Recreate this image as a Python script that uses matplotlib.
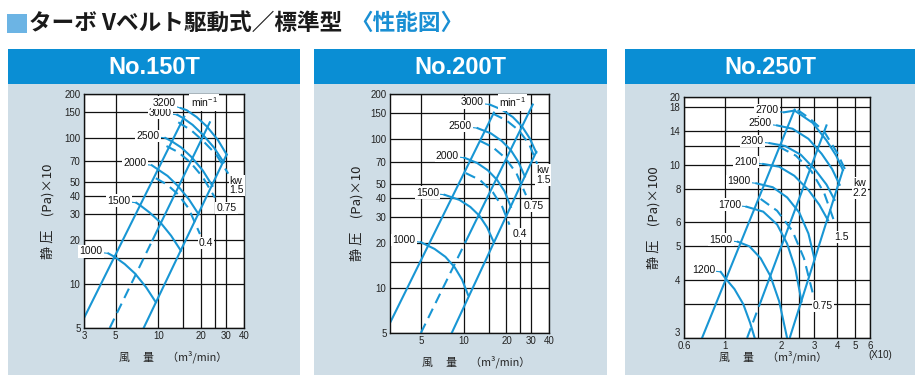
import numpy as np
import matplotlib.pyplot as plt
from matplotlib.patches import Rectangle
from matplotlib.ticker import FixedLocator, FixedFormatter, NullFormatter

plt.rcParams['font.family'] = ['Liberation Sans', 'Noto Sans CJK JP']
plt.rcParams['mathtext.fontset'] = 'custom'
plt.rcParams['mathtext.rm'] = 'Liberation Sans'

# ============================================================
#  DATA
# ============================================================

# ---- No.150T : flow m3/min, static pressure Pa x10
T150_RPM = ['1000', '1500', '2000', '2500', '3000', '3200']
T150_RPM_Q = [[4.45, 4.95, 5.8, 6.85, 8.2, 9.6],
              [7.0, 7.5, 8.7, 10.3, 12.3, 14.4],
              [9.0, 9.9, 11.6, 13.7, 16.4, 19.2],
              [11.2, 12.4, 14.5, 17.1, 20.5, 24.0],
              [13.6, 14.9, 17.4, 20.6, 24.6, 28.8],
              [14.4, 15.8, 18.6, 21.9, 26.2, 30.2]]
T150_RPM_P = [[16.2, 15.3, 13.7, 11.8, 9.5, 7.5],
              [36, 34.4, 30.8, 26.5, 21.4, 16.9],
              [65, 61, 55, 47, 38, 30],
              [100, 95, 86, 74, 60, 47],
              [144, 137, 123, 105, 86, 68],
              [160, 155, 139, 120, 97, 77]]
T150_SYS_Q = [[3, 15.2], [9.1, 23], [7.88, 30.2]]
T150_SYS_P = [[5.85, 140], [20, 128], [5, 77]]
T150_SYS_DASH_Q = [4.55, 9.1]
T150_SYS_DASH_P = [5, 20]
T150_KW = ['0.4', '0.75', 'kw\n1.5']
T150_KW_Q = [[9.6, 11.5, 13.8, 16.3, 19.6],
             [11.4, 13.8, 16.8, 20.5, 25.0],
             [13.8, 17.0, 20.5, 25.5, 31.0]]
T150_KW_P = [[53, 48, 41, 33, 22],
             [88, 80, 68, 54, 39],
             [128, 113, 96, 77, 57]]

# ---- No.200T
T200_RPM = ['1000', '1500', '2000', '2500', '3000']
T200_RPM_Q = [[4.96, 6.2, 7.4, 8.6, 9.7, 10.7],
              [7.3, 9.3, 11.1, 12.9, 14.6, 16.2],
              [10.1, 12.4, 14.8, 17.2, 19.4, 21.5],
              [12.5, 15.5, 18.5, 21.5, 24.3, 27.0],
              [15.2, 18.6, 22.2, 25.8, 29.2, 32.5]]
T200_RPM_P = [[20.3, 18.3, 16.2, 13.8, 11.4, 9.0],
              [42.2, 39, 35, 30.5, 25.5, 20.5],
              [74.7, 69, 61.5, 53, 44.5, 35],
              [118, 109, 97, 84, 70, 56],
              [170, 157, 140, 121, 101, 81]]
T200_SYS_Q = [[3, 16.3], [10.3, 30.7], [8.2, 32.5]]
T200_SYS_P = [[5.84, 150], [20.5, 170], [5, 82]]
T200_SYS_DASH_Q = [4.96, 10.3]
T200_SYS_DASH_P = [5, 20.5]
T200_KW = ['0.4', '0.75', 'kw\n1.5']
T200_KW_Q = [[10.3, 13.0, 16.0, 18.7, 21.0],
             [13.0, 16.0, 19.5, 23.5, 27.5],
             [16.0, 20.0, 24.5, 29.0, 33.0]]
T200_KW_P = [[59, 53, 44, 35, 26.6],
             [97, 88, 75, 59, 42],
             [148, 133, 114, 92, 68]]

# ---- No.250T : flow m3/min x10, static pressure Pa x100
T250_RPM = ['1200', '1500', '1700', '1900', '2100', '2300', '2500', '2700']
T250_RPM_Q = [[0.945, 1.0, 1.12, 1.25, 1.36, 1.44],
              [1.17, 1.35, 1.55, 1.75, 1.95, 2.15],
              [1.3, 1.6, 1.9, 2.15, 2.38, 2.57],
              [1.47, 1.8, 2.15, 2.5, 2.8, 3.02],
              [1.6, 1.95, 2.35, 2.8, 3.2, 3.57],
              [1.73, 2.1, 2.55, 3.05, 3.5, 3.87],
              [1.9, 2.3, 2.8, 3.3, 3.75, 4.12],
              [2.07, 2.36, 2.95, 3.5, 3.95, 4.29]]
T250_RPM_P = [[4.21, 4.05, 3.8, 3.5, 3.2, 3.0],
              [5.17, 5.0, 4.6, 4.1, 3.55, 3.0],
              [6.83, 6.55, 5.9, 5.1, 4.3, 3.55],
              [8.39, 8.1, 7.4, 6.5, 5.5, 4.57],
              [10.06, 9.8, 9.0, 7.9, 6.95, 6.1],
              [12.35, 12.0, 11.0, 9.5, 8.3, 7.24],
              [14.8, 14.3, 12.9, 11.1, 9.6, 8.28],
              [16.98, 17.3, 15.2, 12.7, 10.9, 9.5]]
T250_SYS_Q = [[0.75, 2.36], [1.56, 3.5], [2.22, 4.29]]
T250_SYS_P = [[3, 17.47], [3.57, 14.8], [3, 9.5]]
T250_SYS_DASH_Q = [1.31, 1.56]
T250_SYS_DASH_P = [3, 3.57]
T250_KW = ['0.75', '1.5', 'kw\n2.2']
T250_KW_Q = [[1.55, 1.9, 2.3, 2.65, 2.96],
             [1.95, 2.4, 2.9, 3.4, 3.87],
             [2.45, 2.85, 3.4, 4.0, 4.45]]
T250_KW_P = [[7.3, 6.6, 5.6, 4.6, 3.7],
             [11.9, 10.9, 9.4, 7.7, 6.0],
             [17.4, 15.9, 13.9, 11.2, 9.4]]

# ============================================================
#  STYLE
# ============================================================

W, H = 924, 385
BLUE = '#1896d4'
HEAD = '#0a8ed4'
PANEL = '#cfdde6'
LW = 1.5
CJK = ['Noto Sans CJK JP']


def fbox(x0, y0, x1, y1):
    """pixel box (top-left origin) -> figure fraction rect"""
    return [x0 / W, 1 - y1 / H, (x1 - x0) / W, (y1 - y0) / H]


def fwd(v):
    return np.log10(np.clip(np.asarray(v, dtype=float) - 2, 1e-6, None))


def inv(v):
    return 10 ** np.asarray(v, dtype=float) + 2


def panel_frame(fig, x0, x1, title):
    fig.add_artist(Rectangle((x0 / W, 1 - 375 / H), (x1 - x0) / W, 291 / H,
                             transform=fig.transFigure, fc=PANEL, ec='none', zorder=0))
    fig.add_artist(Rectangle((x0 / W, 1 - 84 / H), (x1 - x0) / W, 35 / H,
                             transform=fig.transFigure, fc=HEAD, ec='none', zorder=0))
    fig.text((x0 + x1) / 2 / W, 1 - 67 / H, title, color='white', fontsize=17,
             weight='bold', ha='center', va='center')


def make_axes(fig, box, xlim, ylim, xmaj, xlab, xmin, ymaj, ylab, ymin, func_y=False):
    ax = fig.add_axes(fbox(*box))
    ax.set_facecolor('white')
    ax.set_xscale('log')
    if func_y:
        ax.set_yscale('function', functions=(fwd, inv))
    else:
        ax.set_yscale('log')
    ax.xaxis.set_major_locator(FixedLocator(xmaj))
    ax.xaxis.set_major_formatter(FixedFormatter(xlab))
    ax.xaxis.set_minor_locator(FixedLocator(xmin))
    ax.xaxis.set_minor_formatter(NullFormatter())
    ax.yaxis.set_major_locator(FixedLocator(ymaj))
    ax.yaxis.set_major_formatter(FixedFormatter(ylab))
    ax.yaxis.set_minor_locator(FixedLocator(ymin))
    ax.yaxis.set_minor_formatter(NullFormatter())
    ax.set_xlim(*xlim)
    ax.set_ylim(*ylim)
    ax.tick_params(which='both', length=0, labelsize=7, pad=2.5, colors='#222')
    ax.grid(True, which='both', color='#111', lw=0.9)
    for s in ax.spines.values():
        s.set_color('#111')
        s.set_linewidth(1.0)
    return ax


def draw_curves(ax, rpm, rq, rp, sq, sp, dq, dp, kw, kq, kp, kw_offsets,
                top_lift=1.5, min_label=True):
    for q, p in zip(sq, sp):
        ax.plot(q, p, color=BLUE, lw=LW)
    ax.plot(dq, dp, color=BLUE, lw=LW, dashes=(5, 3))
    for q, p in zip(kq, kp):
        ax.plot(q, p, color=BLUE, lw=LW, dashes=(5, 3))
    for i, (name, q, p) in enumerate(zip(rpm, rq, rp)):
        ax.plot(q, p, color=BLUE, lw=LW)
        lift = top_lift if i == len(rpm) - 1 else 1.5
        ax.annotate(name, xy=(q[0], p[0]), xytext=(-4, lift), textcoords='offset points',
                    ha='right', va='center', fontsize=7.5, color='#111',
                    bbox=dict(boxstyle='square,pad=0.12', fc='white', ec='none'),
                    arrowprops=dict(arrowstyle='-', color=BLUE, lw=0.8,
                                    shrinkA=0, shrinkB=0))
    if min_label:
        ax.annotate('min$^{-1}$', xy=(rq[-1][0], rp[-1][0]), xytext=(7, top_lift),
                    textcoords='offset points', ha='left', va='center',
                    fontsize=7.5, color='#111',
                    bbox=dict(boxstyle='square,pad=0.12', fc='white', ec='none'))
    for name, q, p, off in zip(kw, kq, kp, kw_offsets):
        ax.annotate(name, xy=(q[-1], p[-1]), xytext=off, textcoords='offset points',
                    ha='left', va='top', fontsize=7.5, color='#111', linespacing=0.95,
                    bbox=dict(boxstyle='square,pad=0.1', fc='white', ec='none'))


def axis_titles(ax, ytxt, yx, xx, xy):
    ax.text(yx, 0.5, ytxt, rotation=90, transform=ax.transAxes,
            ha='center', va='center', fontsize=9.5, family=CJK, color='#222')
    ax.text(xx, xy, '風　 量　 （m³/min）', transform=ax.transAxes,
            ha='center', va='center', fontsize=7.8, family=CJK, color='#222')


fig = plt.figure(figsize=(W / 100, H / 100), dpi=100)
fig.patch.set_facecolor('white')

# ---- page title
fig.add_artist(Rectangle((7 / W, 1 - 33 / H), 20 / W, 19 / H, transform=fig.transFigure,
                         fc='#6cb4e4', ec='none'))
fig.text(29 / W, 1 - 23 / H, 'ターボ Vベルト駆動式／標準型', fontsize=16.3, weight='bold',
         family=CJK, color='#1a1a1a', va='center', ha='left')
fig.text(350 / W, 1 - 23 / H, '〈性能図〉', fontsize=16.3, weight='bold',
         family=CJK, color='#1a8fd3', va='center', ha='left')

# ---- No.150T
panel_frame(fig, 8, 300, 'No.150T')
ax1 = make_axes(fig, (84, 94, 244, 328), (3, 40), (5, 200),
                [3, 5, 10, 20, 30, 40], ['3', '5', '10', '20', '30', '40'], [15, 25],
                [5, 10, 20, 30, 40, 50, 70, 100, 150, 200],
                ['5', '10', '20', '30', '40', '50', '70', '100', '150', '200'], [15])
draw_curves(ax1, T150_RPM, T150_RPM_Q, T150_RPM_P, T150_SYS_Q, T150_SYS_P,
            T150_SYS_DASH_Q, T150_SYS_DASH_P, T150_KW, T150_KW_Q, T150_KW_P,
            [(-1, -3), (1, -4), (1, -1.5)], top_lift=4)
axis_titles(ax1, '静 圧　(Pa)×10', -0.225, 0.556, -0.123)

# ---- No.200T
panel_frame(fig, 314, 607, 'No.200T')
ax2 = make_axes(fig, (390, 94, 549, 333), (3, 40), (5, 200),
                [5, 10, 20, 30, 40], ['5', '10', '20', '30', '40'], [15, 25],
                [5, 10, 20, 30, 40, 50, 70, 100, 150, 200],
                ['5', '10', '20', '30', '40', '50', '70', '100', '150', '200'], [15])
draw_curves(ax2, T200_RPM, T200_RPM_Q, T200_RPM_P, T200_SYS_Q, T200_SYS_P,
            T200_SYS_DASH_Q, T200_SYS_DASH_P, T200_KW, T200_KW_Q, T200_KW_P,
            [(2, -3), (-2, -4), (-1, -1)])
axis_titles(ax2, '静 圧　(Pa)×10', -0.209, 0.54, -0.12)

# ---- No.250T
panel_frame(fig, 625, 915, 'No.250T')
ax3 = make_axes(fig, (684, 97, 870, 338), (0.6, 6), (3, 20),
                [0.6, 1, 2, 3, 4, 5, 6], ['0.6', '1', '2', '3', '4', '5', '6'], [1.5, 2.5],
                [3, 4, 5, 6, 8, 10, 14, 18, 20],
                ['3', '4', '5', '6', '8', '10', '14', '18', '20'], [3.5, 12], func_y=True)
draw_curves(ax3, T250_RPM, T250_RPM_Q, T250_RPM_P, T250_SYS_Q, T250_SYS_P,
            T250_SYS_DASH_Q, T250_SYS_DASH_P, T250_KW, T250_KW_Q, T250_KW_P,
            [(0, -5), (0, -7), (5, -5)], min_label=False)
ax3.tick_params(axis='x', pad=2)
ax3.get_yticklabels()[0].set_va('bottom')
axis_titles(ax3, '静 圧　(Pa)×100', -0.165, 0.48, -0.078)
ax3.text(1.055, -0.072, '(X10)', transform=ax3.transAxes,
         ha='center', va='center', fontsize=7, color='#222')

fig.savefig('out.png', dpi=100)
